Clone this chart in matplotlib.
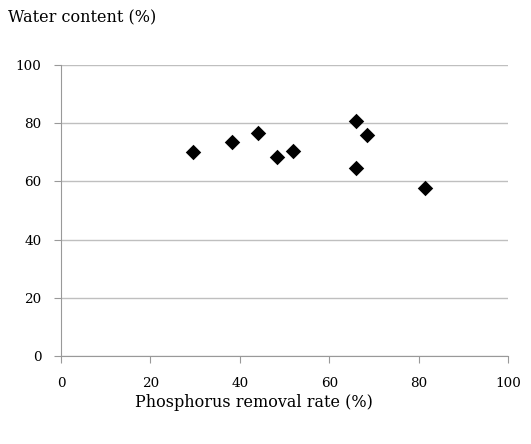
# Water content vs phosphorus removal rate scatter
import matplotlib.pyplot as plt

removal_rate = [29.4, 38.2, 44.0, 48.4, 51.9, 66.0, 68.4, 66.0, 81.3]  # %
water_content = [69.9, 73.4, 76.7, 68.4, 70.4, 80.7, 75.8, 64.5, 57.7]  # %

x_ticks = [0, 20, 40, 60, 80, 100]
y_ticks = [0, 20, 40, 60, 80, 100]

fig = plt.figure(figsize=(5.31, 4.44), dpi=100)
ax = fig.add_axes([61/531, 1-356.3/444, (508.3-61)/531, (356.3-64.6)/444])

ax.scatter(removal_rate, water_content, marker='D', s=62, color='black',
           zorder=3, linewidths=0)

ax.set_xlim(0, 100)
ax.set_ylim(0, 100)
ax.set_xticks(x_ticks)
ax.set_yticks(y_ticks)
ax.set_xticklabels([str(v) for v in x_ticks], family='DejaVu Serif', fontsize=9.7)
ax.set_yticklabels([str(v) for v in y_ticks], family='DejaVu Serif', fontsize=9.7)

ax.grid(axis='y', color='#bfbfbf', linewidth=1)
ax.set_axisbelow(True)
for side in ['top', 'right']:
    ax.spines[side].set_visible(False)
for side in ['left', 'bottom']:
    ax.spines[side].set_color('#999999')
ax.tick_params(axis='x', direction='out', length=5, color='#999999', pad=10)
ax.tick_params(axis='y', direction='out', length=5, color='#999999', pad=9)

fig.text(8/531, 1-18/444, 'Water content (%)', family='DejaVu Serif',
         fontsize=11.5, va='center', ha='left')
fig.text(254/531, 1-402/444, 'Phosphorus removal rate (%)', family='DejaVu Serif',
         fontsize=11.5, va='center', ha='center')

fig.savefig('out.png', dpi=100)
